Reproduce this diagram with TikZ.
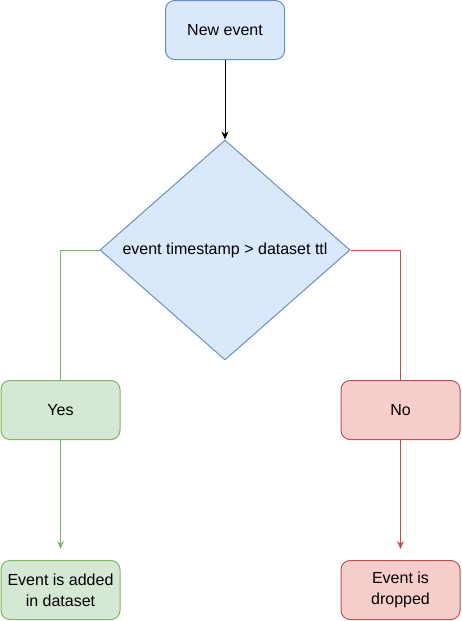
\documentclass[tikz,border=0pt]{standalone}
\usepackage{fontspec}
\setmainfont{Liberation Sans}
\usetikzlibrary{arrows.meta, shapes.geometric}
\definecolor{bluefill}{HTML}{DAE8FC}
\definecolor{blueline}{HTML}{6C8EBF}
\definecolor{greenfill}{HTML}{D5E8D4}
\definecolor{greenline}{HTML}{82B366}
\definecolor{redfill}{HTML}{F8CECC}
\definecolor{redline}{HTML}{B85450}

\begin{document}
\begin{tikzpicture}[
    x=1pt, y=-1pt,
    line width=1pt,
    font=\fontsize{16}{21}\selectfont,
    stepbox/.style={rectangle, rounded corners=9pt, minimum width=119pt, minimum height=59pt, inner sep=2pt, align=center},
    choice/.style={diamond, minimum width=250pt, minimum height=220pt, inner sep=0pt, fill=bluefill, draw=blueline},
    tip/.style={-{Stealth[length=8pt, width=7pt]}}
]
    \useasboundingbox (0,0) rectangle (461,621);

    % Start
    \node[stepbox, fill=bluefill, draw=blueline] (newev) at (225,30) {New event};

    % Decision
    \node[choice] (check) at (225,250) {};
    \node (checktext) at (check.center) {event timestamp > dataset ttl};

    % Branches
    \node[stepbox, fill=greenfill, draw=greenline] (yes) at (60.5,410) {Yes};
    \node[stepbox, fill=redfill, draw=redline] (no) at (400.5,410) {No};

    % Outcomes
    \node[stepbox, fill=greenfill, draw=greenline] (added) at (60.5,590) {Event is added\\in dataset};
    \node[stepbox, fill=redfill, draw=redline] (dropped) at (400.5,590) {Event is\\dropped};
    \coordinate (addedend) at (60.5,549);
    \coordinate (droppedend) at (400.5,549);

    % Connectors
    \draw[tip] (newev.south) -- (check.north);
    \draw[greenline] (check.west) -| (yes.north);
    \draw[redline] (check.east) -| (no.north);
    \draw[greenline, tip] (yes.south) -- (addedend);
    \draw[redline, tip] (no.south) -- (droppedend);

\end{tikzpicture}
\end{document}
